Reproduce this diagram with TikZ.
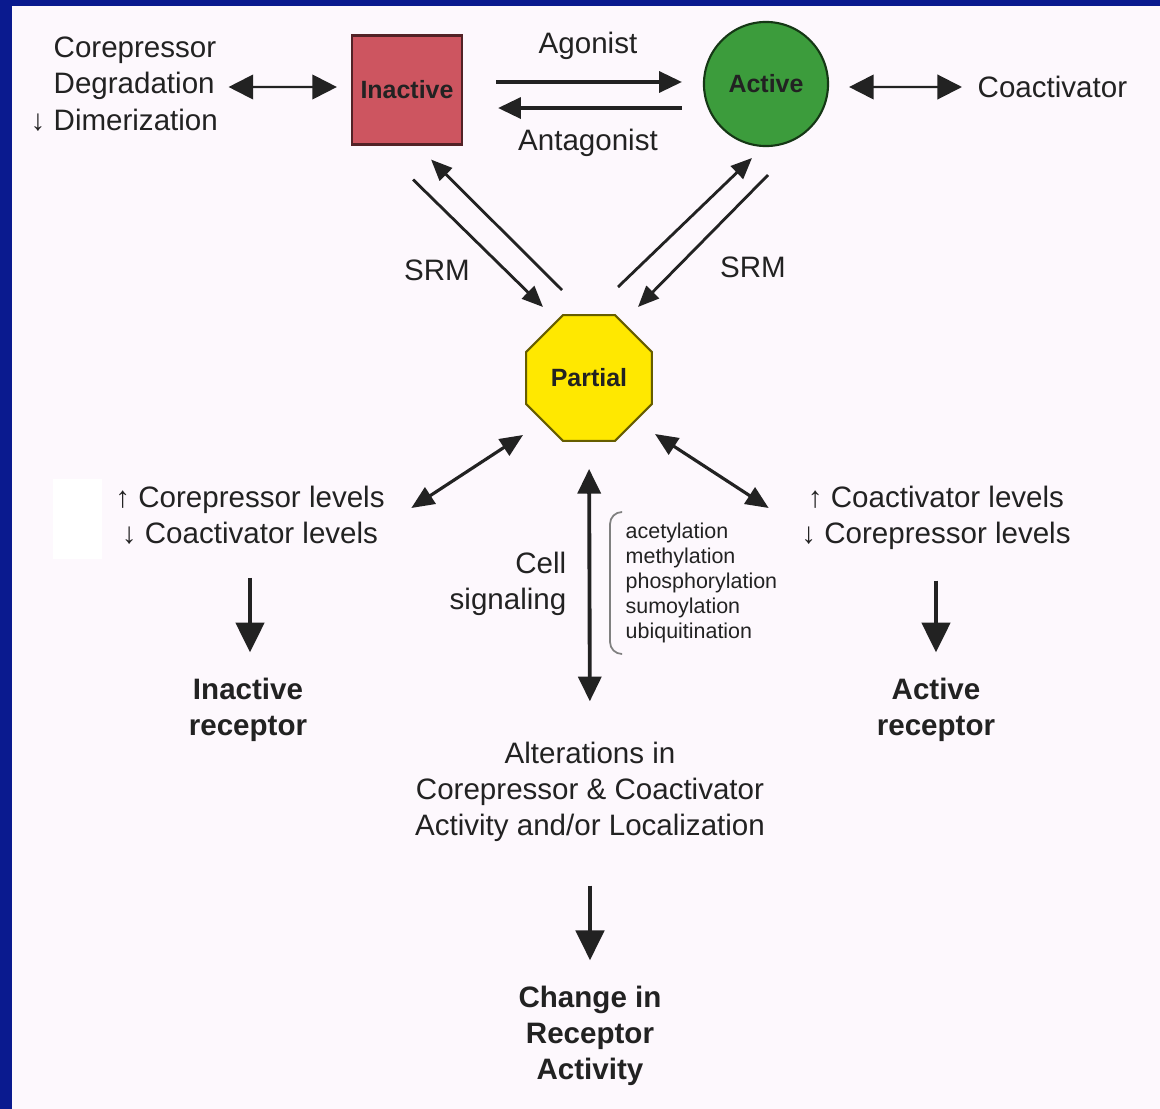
\documentclass[tikz,border=0pt]{standalone}
\usepackage{fontspec}
\setmainfont{Liberation Sans}
\usetikzlibrary{shapes.geometric,arrows.meta,positioning}
\definecolor{frameBlue}{HTML}{0A1A8F}
\definecolor{paper}{HTML}{FDF8FD}
\definecolor{inactRed}{HTML}{CD5560}
\definecolor{actGreen}{HTML}{3C9C3C}
\definecolor{partYellow}{HTML}{FFE800}
\definecolor{ink}{HTML}{222222}
\tikzstyle{plainText}=[inner sep=0pt, text=ink, font=\fontsize{8.4}{10.3}\selectfont, align=center]
\tikzstyle{boldText}=[plainText, font=\fontsize{8.4}{10.3}\selectfont\bfseries]
\tikzstyle{smallText}=[inner sep=0pt, text=ink, font=\fontsize{6.1}{7.1}\selectfont, align=left]
\tikzstyle{stateLabel}=[inner sep=0pt, text=ink, font=\fontsize{7.1}{8}\selectfont\bfseries]

\begin{document}
\begin{tikzpicture}[x=0.01cm, y=-0.01cm]
\tikzstyle{inactiveBox}=[stateLabel, shape=rectangle, minimum width=1.1cm, minimum height=1.09cm, fill=inactRed, draw=inactRed!40!black, line width=0.6pt]
\tikzstyle{activeBall}=[stateLabel, shape=circle, minimum size=1.24cm, fill=actGreen, draw=actGreen!35!black, line width=0.6pt]
\tikzstyle{partialStop}=[stateLabel, shape=regular polygon, regular polygon sides=8, minimum size=1.36cm, fill=partYellow, draw=partYellow!40!black, line width=0.6pt]
\tikzstyle{thinTwoWay}=[{Triangle[length=7pt,width=7pt]}-{Triangle[length=7pt,width=7pt]}, line width=0.6pt, draw=ink]
\tikzstyle{flowArrow}=[-{Triangle[length=6.5pt,width=6pt]}, line width=0.9pt, draw=ink]
\tikzstyle{srmArrow}=[-{Triangle[length=6pt,width=5pt]}, line width=0.8pt, draw=ink]
\tikzstyle{diagTwoWay}=[{Triangle[length=6.5pt,width=5.5pt]}-{Triangle[length=6.5pt,width=5.5pt]}, line width=0.9pt, draw=ink]
\tikzstyle{tallTwoWay}=[{Triangle[length=7pt,width=6.5pt]}-{Triangle[length=7pt,width=6.5pt]}, line width=1.1pt, draw=ink]
\tikzstyle{downArrow}=[-{Triangle[length=8.5pt,width=8pt]}, line width=1.3pt, draw=ink]
% frame
\useasboundingbox (0,0) rectangle (1160,1109);
\fill[paper] (0,0) rectangle (1160,1109);
\fill[frameBlue] (0,0) rectangle (12,1109);
\fill[frameBlue] (0,0) rectangle (1160,6);
\fill[white] (53,479) rectangle (102,559);
% receptor states
\node[inactiveBox] (inactive) at (407,90) {Inactive};
\node[activeBall] (active) at (766,84) {Active};
\node[partialStop] (partial) at (589,378) {Partial};
% labels
\node[plainText, align=left, anchor=west] (degrade) at (53,84) {Corepressor\\Degradation\\\llap{↓ }Dimerization};
\node[plainText] (agon) at (588,46) {Agonist};
\node[plainText] (antag) at (588,143) {Antagonist};
\node[plainText, anchor=west] (coact) at (977,87) {Coactivator};
\node[plainText] (srmL) at (437,270) {SRM};
\node[plainText] (srmR) at (753,267) {SRM};
\node[plainText] (lvlL) at (250,515) {↑ Corepressor levels\\↓ Coactivator levels};
\node[plainText] (lvlR) at (936,518) {↑ Coactivator levels\\↓ Corepressor levels};
\node[boldText] (recL) at (248,710) {Inactive\\receptor};
\node[boldText] (recR) at (936,710) {Active\\receptor};
\node[plainText, align=right, anchor=east] (cellsig) at (567,584) {Cell\\signaling};
\node[smallText, anchor=west] (mods) at (625,583) {acetylation\\methylation\\phosphorylation\\sumoylation\\ubiquitination};
\node[plainText] (alter) at (590,792) {Alterations in\\Corepressor \& Coactivator\\Activity and/or Localization};
\node[boldText] (change) at (590,1036) {Change in\\Receptor\\Activity};
% top row
\coordinate (agStart) at ([xshift=0.33cm,yshift=0.08cm]inactive.east);
\coordinate (antStart) at ([xshift=-0.21cm,yshift=-0.24cm]active.west);
\draw[thinTwoWay] ([xshift=0.1cm,yshift=-0.03cm]degrade.east) -- ([xshift=-0.14cm,yshift=0.03cm]inactive.west);
\draw[flowArrow, shorten >=0.21cm] (agStart) -- (agStart -| active.west);
\draw[flowArrow, shorten >=0.35cm] (antStart) -- (antStart -| inactive.east);
\draw[thinTwoWay] ([xshift=0.2cm,yshift=-0.03cm]active.east) -- ([xshift=-0.15cm]coact.west);
% SRM
\draw[srmArrow] ([shift={(-50,34)}]inactive.south east) -- ([shift={(-46,-71)}]partial.center);
\draw[srmArrow] ([shift={(-27,-88)}]partial.center) -- ([shift={(-32,14)}]inactive.south east);
\draw[srmArrow] ([shift={(29,-91)}]partial.center) -- ([shift={(-14,74)}]active.center);
\draw[srmArrow] ([shift={(2,91)}]active.center) -- ([shift={(49,-71)}]partial.center);
% partial outputs
\draw[diagTwoWay] ([shift={(-66,57)}]partial.center) -- ([shift={(26,-7)}]lvlL.east);
\draw[diagTwoWay] ([shift={(66,56)}]partial.center) -- ([shift={(-32,-10)}]lvlR.west);
\draw[tallTwoWay, shorten <=0.27cm, shorten >=0.4cm] (partial.south) -- (alter.north);
\draw[gray, line width=0.5pt, rounded corners=0.12cm] ([shift={(-3,-71)}]mods.west) -| ([shift={(-15,0)}]mods.west) |- ([shift={(-3,71)}]mods.west);
\draw[downArrow, shorten <=0.33cm, shorten >=0.25cm] (lvlL.south) -- (recL.north -| lvlL.south);
\draw[downArrow, shorten <=0.30cm, shorten >=0.25cm] (lvlR.south) -- (recR.north -| lvlR.south);
\draw[downArrow, shorten <=0.43cm, shorten >=0.25cm] (alter.south) -- (change.north);
\end{tikzpicture}
\end{document}
